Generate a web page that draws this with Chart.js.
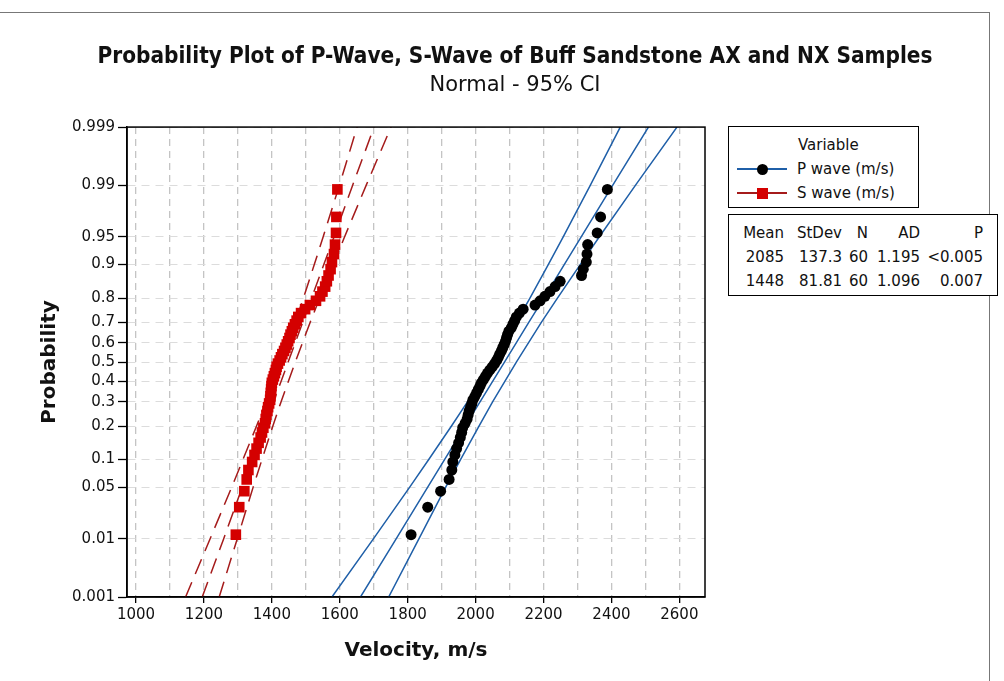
<!DOCTYPE html>
<html lang="en">
<head>
<meta charset="UTF-8">
<title>Probability Plot of P-Wave, S-Wave</title>
<style>
  body { margin: 0; background: #fff; font-family: 'DejaVu Sans', sans-serif; color: #111; }
  #wrap { position: relative; width: 1004px; height: 681px; overflow: hidden; }
  #frame { position: absolute; left: -2px; top: 12px; width: 991px; height: 700px;
           border-top: 1px solid #777; border-right: 1px solid #777; }
  .box { position: absolute; border: 1.5px solid #000; background: #fff; font-size: 15px; }
  .box span { position: absolute; white-space: nowrap; line-height: 18px; }
  .sym { position: absolute; height: 2px; }
</style>
</head>
<body>
<div id="wrap">
  <div id="frame"></div>
  <canvas id="chart" width="1004" height="681"></canvas>
  <div class="box" id="legend" style="left:728px; top:126px; width:189px; height:80px;"></div>
  <div class="box" id="stats" style="left:728px; top:214px; width:268px; height:80px;"></div>
</div>

<script src="https://cdn.jsdelivr.net/npm/chart.js"></script>
<script>
// --- data ---
const seriesNames = ['P wave (m/s)', 'S wave (m/s)'];

// sorted velocities, 60 samples each
const pWave = [1810, 1859, 1897, 1922, 1930, 1933, 1939, 1944, 1950, 1955,
               1959, 1962, 1969, 1975, 1978, 1981, 1985, 1989, 1992, 1998,
               2003, 2008, 2013, 2017, 2023, 2029, 2035, 2042, 2049, 2056,
               2062, 2067, 2071, 2076, 2080, 2084, 2088, 2091, 2094, 2098,
               2105, 2110, 2115, 2120, 2129, 2140, 2175, 2190, 2204, 2219,
               2234, 2249, 2312, 2317, 2326, 2328, 2330, 2358, 2368, 2388];
const sWave = [1294, 1304, 1319, 1326, 1331, 1342, 1349, 1355, 1361, 1367,
               1371, 1375, 1380, 1382, 1384, 1387, 1389, 1392, 1395, 1396,
               1397, 1398, 1399, 1400, 1403, 1406, 1409, 1412, 1414, 1418,
               1423, 1427, 1431, 1436, 1440, 1444, 1448, 1452, 1455, 1459,
               1463, 1468, 1473, 1478, 1486, 1498, 1512, 1530, 1542, 1549,
               1557, 1562, 1567, 1573, 1577, 1583, 1586, 1589, 1590, 1593];

// fitted line and 95% CI, x read at these probabilities
const pLevels = [0.001, 0.01, 0.05, 0.1, 0.2, 0.3, 0.5, 0.7, 0.8, 0.9, 0.95, 0.99, 0.999];
const pFit  = [1661, 1766, 1859, 1909, 1969, 2013, 2085, 2157, 2201, 2261, 2311, 2404, 2509];
const pLow  = [1577, 1699, 1806, 1862, 1929, 1976, 2050, 2120, 2160, 2214, 2258, 2338, 2426];
const pHigh = [1744, 1833, 1912, 1956, 2010, 2050, 2120, 2194, 2241, 2308, 2364, 2471, 2593];
const sFit  = [1195, 1258, 1313, 1343, 1379, 1405, 1448, 1491, 1517, 1553, 1583, 1638, 1701];
const sLow  = [1146, 1218, 1282, 1315, 1355, 1383, 1427, 1469, 1493, 1525, 1551, 1599, 1651];
const sHigh = [1245, 1298, 1345, 1371, 1403, 1427, 1469, 1513, 1541, 1581, 1614, 1678, 1751];

const probTicks = [0.001, 0.01, 0.05, 0.1, 0.2, 0.3, 0.4, 0.5, 0.6, 0.7, 0.8, 0.9, 0.95, 0.99, 0.999];
const velGrid = [1000, 1100, 1200, 1300, 1400, 1500, 1600, 1700, 1800,
                 1900, 2000, 2100, 2200, 2300, 2400, 2500, 2600];
const velLabels = [1000, 1200, 1400, 1600, 1800, 2000, 2200, 2400, 2600];

const statHeader = ['Mean', 'StDev', 'N', 'AD', 'P'];
const statRows = [
  ['2085', '137.3', '60', '1.195', '<0.005'],
  ['1448', '81.81', '60', '1.096', '0.007']
];

const FONT = 'DejaVu Sans';
const BLUE = '#1f5fa8';
const DARKRED = '#a51b1b';
const RED = '#d40000';

// inverse normal cdf (Acklam)
function invNorm(p) {
  const a = [-39.69683028665376, 220.9460984245205, -275.9285104469687, 138.3577518672690, -30.66479806614716, 2.506628277459239];
  const b = [-54.47609879822406, 161.5858368580409, -155.6989798598866, 66.80131188771972, -13.28068155288572];
  const c = [-0.007784894002430293, -0.3223964580411365, -2.400758277161838, -2.549732539343734, 4.374664141464968, 2.938163982698783];
  const d = [0.007784695709041462, 0.3224671290700398, 2.445134137142996, 3.754408661907416];
  const lo = 0.02425;
  let q, r;
  if (p < lo) {
    q = Math.sqrt(-2 * Math.log(p));
    return (((((c[0]*q+c[1])*q+c[2])*q+c[3])*q+c[4])*q+c[5]) / ((((d[0]*q+d[1])*q+d[2])*q+d[3])*q+1);
  }
  if (p > 1 - lo) {
    q = Math.sqrt(-2 * Math.log(1 - p));
    return -(((((c[0]*q+c[1])*q+c[2])*q+c[3])*q+c[4])*q+c[5]) / ((((d[0]*q+d[1])*q+d[2])*q+d[3])*q+1);
  }
  q = p - 0.5; r = q * q;
  return (((((a[0]*r+a[1])*r+a[2])*r+a[3])*r+a[4])*r+a[5])*q / (((((b[0]*r+b[1])*r+b[2])*r+b[3])*r+b[4])*r+1);
}
function normCdf(z) {
  const t = 1 / (1 + 0.3275911 * Math.abs(z) / Math.SQRT2);
  const e = 1 - (((((1.061405429*t - 1.453152027)*t) + 1.421413741)*t - 0.284496736)*t + 0.254829592)*t * Math.exp(-z*z/2);
  return z >= 0 ? (1 + e) / 2 : (1 - e) / 2;
}

// normal probability axis
class ProbitScale extends Chart.Scale {
  determineDataLimits() {
    this.min = this.options.min;
    this.max = this.options.max;
  }
  buildTicks() {
    return probTicks.map(v => ({ value: v }));
  }
  configure() {
    super.configure();
    this._zMin = invNorm(this.min);
    this._zMax = invNorm(this.max);
  }
  getLabelForValue(v) { return String(v); }
  getPixelForValue(v) {
    return this.getPixelForDecimal((invNorm(v) - this._zMin) / (this._zMax - this._zMin));
  }
  getValueForPixel(px) {
    return normCdf(this._zMin + this.getDecimalForPixel(px) * (this._zMax - this._zMin));
  }
}
ProbitScale.id = 'probit';
ProbitScale.defaults = {};
Chart.register(ProbitScale);

// median rank plotting positions
const rankProb = (i, n) => (i + 1 - 0.3) / (n + 0.4);
const points = vals => vals.map((v, i) => ({ x: v, y: rankProb(i, vals.length) }));
const curve = xs => xs.map((v, i) => ({ x: v, y: pLevels[i] }));

function lineSet(xs, color, dash) {
  return { type: 'line', data: curve(xs), borderColor: color, borderWidth: 1.5,
           borderDash: dash, pointRadius: 0, fill: false, tension: 0, order: 2 };
}

const frame = {
  id: 'frame',
  afterDraw(chart) {
    const { ctx, chartArea: a } = chart;
    ctx.save();
    ctx.strokeStyle = '#000';
    ctx.lineWidth = 1.5;
    ctx.strokeRect(a.left, a.top, a.right - a.left, a.bottom - a.top);
    ctx.restore();
  }
};

new Chart(document.getElementById('chart'), {
  type: 'scatter',
  data: {
    datasets: [
      { label: seriesNames[0], data: points(pWave), pointStyle: 'circle', pointRadius: 5.5,
        backgroundColor: '#000', borderColor: '#000', borderWidth: 0, order: 1 },
      { label: seriesNames[1], data: points(sWave), pointStyle: 'rect', pointRadius: 7.5,
        backgroundColor: RED, borderColor: RED, borderWidth: 0, order: 1 },
      lineSet(pFit, BLUE, []), lineSet(pLow, BLUE, []), lineSet(pHigh, BLUE, []),
      lineSet(sFit, DARKRED, [16, 9]), lineSet(sLow, DARKRED, [16, 9]), lineSet(sHigh, DARKRED, [16, 9])
    ]
  },
  options: {
    responsive: false,
    animation: false,
    layout: { padding: { left: 26, right: 0, top: 0, bottom: 0 } },
    plugins: {
      legend: { display: false },
      tooltip: { enabled: false },
      title: {
        display: true,
        text: 'Probability Plot of P-Wave, S-Wave of Buff Sandstone AX and NX Samples',
        color: '#111',
        font: { family: "'DejaVu Sans Condensed', " + FONT, size: 22.4, weight: 'bold' },
        padding: { top: 44, bottom: 1 }
      },
      subtitle: {
        display: true,
        text: 'Normal - 95% CI',
        color: '#111',
        font: { family: FONT, size: 21 },
        padding: { top: 1, bottom: 29 }
      }
    },
    scales: {
      x: {
        type: 'linear', min: 973.5, max: 2675.5,
        afterFit: s => { s.height = 84; },
        afterBuildTicks: s => { s.ticks = velGrid.map(v => ({ value: v })); },
        ticks: {
          autoSkip: false, maxRotation: 0,
          padding: 3, color: '#111', font: { family: FONT, size: 15 },
          callback: v => (velLabels.includes(v) ? String(v) : '')
        },
        grid: {
          color: '#c4c4c4', lineWidth: 1.3, tickLength: 6, tickWidth: 1.3,
          tickColor: c => (c.tick && velLabels.includes(c.tick.value) ? '#000' : 'rgba(0,0,0,0)')
        },
        border: { color: '#000', width: 1.5, dash: [7, 5] },
        title: {
          display: true, text: 'Velocity, m/s', color: '#111',
          font: { family: FONT, size: 20, weight: 'bold' }, padding: { bottom: 18 }
        }
      },
      y: {
        type: 'probit', min: 0.001, max: 0.999,
        afterFit: s => { s.width = 101; },
        ticks: { autoSkip: false, padding: 3, color: '#111', font: { family: FONT, size: 15 },
                 callback: v => String(v) },
        grid: { color: '#dcdcdc', lineWidth: 1, tickLength: 9, tickColor: '#000', tickWidth: 1.3 },
        border: { color: '#000', width: 1.5, dash: [8, 6] },
        title: {
          display: true, text: 'Probability', color: '#111',
          font: { family: FONT, size: 20, weight: 'bold' }, padding: { top: 12 }
        }
      },
      pad: {
        type: 'linear', position: 'right', display: true,
        afterFit: s => { s.width = 299; },
        ticks: { display: false }, grid: { display: false }, border: { display: false }
      }
    }
  },
  plugins: [frame]
});

// legend box
const legend = document.getElementById('legend');
function addText(box, text, left, top, right) {
  const s = document.createElement('span');
  s.textContent = text;
  s.style.top = top + 'px';
  if (right !== undefined) s.style.right = right + 'px'; else s.style.left = left + 'px';
  box.appendChild(s);
  return s;
}
addText(legend, 'Variable', 69, 9);
const legendItems = [
  { name: seriesNames[0], line: BLUE, fill: '#000', round: true },
  { name: seriesNames[1], line: DARKRED, fill: RED, round: false }
];
legendItems.forEach((it, k) => {
  const cy = 42 + k * 24;
  const ln = document.createElement('div');
  ln.className = 'sym';
  ln.style.cssText = 'left:8px; width:50px; top:' + (cy - 1) + 'px; background:' + it.line;
  legend.appendChild(ln);
  const mk = document.createElement('div');
  mk.style.cssText = 'position:absolute; width:11px; height:11px; left:28px; top:' + (cy - 5.5) +
    'px; background:' + it.fill + (it.round ? '; border-radius:50%' : '');
  legend.appendChild(mk);
  addText(legend, it.name, 68, cy - 9);
});

// statistics table
const stats = document.getElementById('stats');
const colRight = [213, 155, 129, 77, 14];
[statHeader].concat(statRows).forEach((row, r) => {
  row.forEach((cell, c) => addText(stats, cell, 0, 9 + r * 24, colRight[c]));
});
</script>
</body>
</html>
